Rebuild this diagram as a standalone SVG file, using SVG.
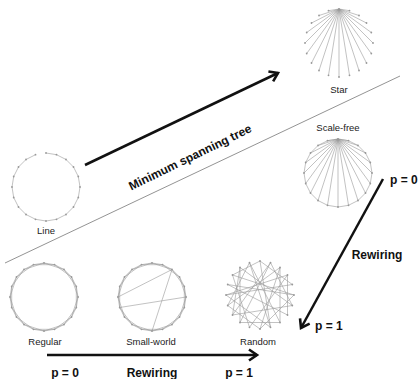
<svg xmlns="http://www.w3.org/2000/svg" xmlns:xlink="http://www.w3.org/1999/xlink" width="418" height="379" viewBox="0 0 418 379">
<style>
.edge{fill:none;stroke:#999;stroke-width:0.6}
.nodes{fill:none;stroke:none;marker-start:url(#dot);marker-mid:url(#dot);marker-end:url(#dot)}
.lbl{font-family:"Liberation Sans",Arial,sans-serif;font-size:9.5px;fill:#222;text-anchor:middle}
.big{font-family:"Liberation Sans",Arial,sans-serif;font-size:12px;font-weight:bold;fill:#111}
.arrow{fill:none;stroke:#111;stroke-width:2.5;marker-end:url(#head)}
.sep{stroke:#777;stroke-width:0.8}
</style>
<defs>
<marker id="dot" markerUnits="userSpaceOnUse" markerWidth="4" markerHeight="4" refX="2" refY="2" overflow="visible"><circle cx="2" cy="2" r="0.9" fill="#999"/></marker>
<marker id="head" markerUnits="userSpaceOnUse" markerWidth="14" markerHeight="14" refX="11" refY="7" orient="auto" overflow="visible"><path d="M3,1.5 L11,7 L3,12.5" fill="none" stroke="#111" stroke-width="2.6"/></marker>
<polygon id="ring" class="edge" points="0,-34 10.5,-32.3 20,-27.5 27.5,-20 32.3,-10.5 34,0 32.3,10.5 27.5,20 20,27.5 10.5,32.3 0,34 -10.5,32.3 -20,27.5 -27.5,20 -32.3,10.5 -34,0 -32.3,-10.5 -27.5,-20 -20,-27.5 -10.5,-32.3"/>
<polygon id="even" class="edge" points="0,-34 20,-27.5 32.3,-10.5 32.3,10.5 20,27.5 0,34 -20,27.5 -32.3,10.5 -32.3,-10.5 -20,-27.5"/>
<polygon id="odd" class="edge" points="10.5,-32.3 27.5,-20 34,0 27.5,20 10.5,32.3 -10.5,32.3 -27.5,20 -34,0 -27.5,-20 -10.5,-32.3"/>
<polyline id="pts" class="nodes" points="0,-34 10.5,-32.3 20,-27.5 27.5,-20 32.3,-10.5 34,0 32.3,10.5 27.5,20 20,27.5 10.5,32.3 0,34 -10.5,32.3 -20,27.5 -27.5,20 -32.3,10.5 -34,0 -32.3,-10.5 -27.5,-20 -20,-27.5 -10.5,-32.3"/>
<path id="spokes" class="edge" d="M0,-34L10.5,-32.3M0,-34L20,-27.5M0,-34L27.5,-20M0,-34L32.3,-10.5M0,-34L34,0M0,-34L32.3,10.5M0,-34L27.5,20M0,-34L20,27.5M0,-34L10.5,32.3M0,-34L0,34M0,-34L-10.5,32.3M0,-34L-20,27.5M0,-34L-27.5,20M0,-34L-32.3,10.5M0,-34L-34,0M0,-34L-32.3,-10.5M0,-34L-27.5,-20M0,-34L-20,-27.5M0,-34L-10.5,-32.3"/>
</defs>
<rect width="418" height="379" fill="#fff"/>

<g id="connectors">
<line class="sep" x1="5" y1="263" x2="400" y2="76"/>
<line id="mst-arrow" class="arrow" x1="85" y1="165" x2="278" y2="73"/>
<line id="rewiring-diag" class="arrow" x1="383" y1="179" x2="301" y2="328"/>
<line id="rewiring-bottom" class="arrow" x1="47" y1="355" x2="257" y2="355"/>
</g>

<g id="line-graph">
<g transform="translate(46,187)">
<polyline class="edge" points="0,-34 10.5,-32.3 20,-27.5 27.5,-20 32.3,-10.5 34,0 32.3,10.5 27.5,20 20,27.5 10.5,32.3 0,34 -10.5,32.3 -20,27.5 -27.5,20 -32.3,10.5 -34,0 -32.3,-10.5 -27.5,-20 -20,-27.5 -10.5,-32.3"/>
<use xlink:href="#pts"/>
</g>
<text class="lbl" x="46" y="233.5">Line</text>
</g>

<g id="star">
<g transform="translate(339,43)">
<use xlink:href="#spokes"/>
<use xlink:href="#pts"/>
</g>
<text class="lbl" x="339" y="92.5">Star</text>
</g>

<g id="scale-free">
<g transform="translate(338,173)">
<use xlink:href="#ring"/>
<use xlink:href="#spokes"/>
<use xlink:href="#pts"/>
</g>
<text class="lbl" x="338" y="130.5">Scale-free</text>
</g>

<g id="regular">
<g transform="translate(44,297)">
<use xlink:href="#ring"/>
<use xlink:href="#even"/>
<use xlink:href="#odd"/>
<use xlink:href="#pts"/>
</g>
<text class="lbl" x="45" y="345">Regular</text>
</g>

<g id="small-world">
<g transform="translate(152,297)">
<use xlink:href="#ring"/>
<use xlink:href="#even"/>
<use xlink:href="#odd"/>
<path class="edge" d="M-34,0L20,-27.5M-32.3,10.5L34,0M20,-27.5L0,34"/>
<use xlink:href="#pts"/>
</g>
<text class="lbl" x="151" y="345">Small-world</text>
</g>

<g id="random">
<g transform="translate(260,295)">
<path class="edge" d="M0,-34L32.3,-10.5M0,-34L10.5,32.3M10.5,-32.3L32.3,10.5M10.5,-32.3L-20,27.5M20,-27.5L20,27.5M20,-27.5L-32.3,10.5M27.5,-20L27.5,20M27.5,-20L-10.5,32.3M32.3,-10.5L-34,0M34,0L0,34M34,0L-27.5,-20M32.3,10.5L-27.5,20M27.5,20L-32.3,-10.5M20,27.5L-20,27.5M10.5,32.3L-34,0M10.5,32.3L-10.5,-32.3M0,34L-32.3,10.5M-10.5,32.3L-27.5,-20M-20,27.5L-20,-27.5M-27.5,20L10.5,-32.3M-32.3,10.5L-10.5,-32.3M-34,0L27.5,-20M-32.3,-10.5L34,0M-27.5,-20L0,-34M-20,-27.5L32.3,10.5M-10.5,-32.3L20,27.5M0,34L20,-27.5M-27.5,20L-20,-27.5"/>
<use xlink:href="#pts"/>
</g>
<text class="lbl" x="258" y="345">Random</text>
</g>

<g id="labels">
<text class="big" transform="translate(190,157) rotate(-26)" text-anchor="middle" dy="4.3">Minimum spanning tree</text>
<text class="big" x="390" y="184">p = 0</text>
<text class="big" x="377" y="259" text-anchor="middle">Rewiring</text>
<text class="big" x="315" y="330">p = 1</text>
<text class="big" x="65" y="377" text-anchor="middle">p = 0</text>
<text class="big" x="152" y="377" text-anchor="middle">Rewiring</text>
<text class="big" x="239" y="377" text-anchor="middle">p = 1</text>
</g>
</svg>
